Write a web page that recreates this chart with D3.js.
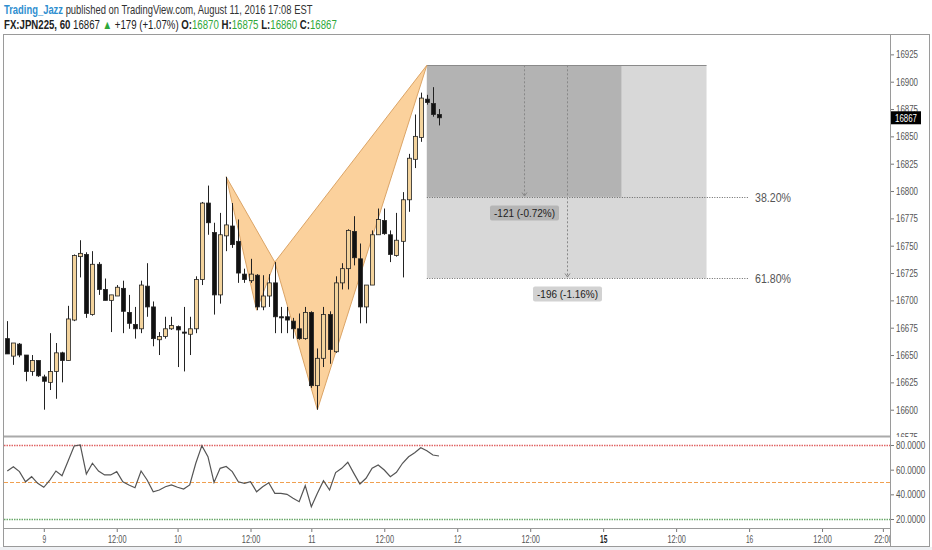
<!DOCTYPE html>
<html>
<head>
<meta charset="utf-8">
<script src="https://cdn.jsdelivr.net/npm/d3@7"></script>
<style>
  body { margin: 0; background: #fff; }
  svg text { font-family: "Liberation Sans", "DejaVu Sans Condensed", sans-serif; }
</style>
</head>
<body>
<div id="chart"></div>
<script>
// FX:JPN225 hourly bars, index 0 = first bar on the left edge
const opens  = [16665,16649,16660,16650,16635,16645,16630,16625,16635,16652,
                16645,16682,16740,16742,16687,16733,16710,16700,16704,16711,
                16689,16678,16674,16713,16694,16664,16667,16674,16676,16671,
                16669,16674,16719,16789,16762,16705,16759,16768,16754,16724,
                16718,16723,16694,16704,16716,16685,16685,16681,16674,16665,
                16689,16622,16647,16687,16653,16716,16729,16763,16738,16694,
                16714,16760,16773,16760,16741,16754,16792,16829,16849,16884,
                16880,16870];
const highs  = [16681,16661,16661,16650,16650,16645,16632,16670,16661,16653,
                16695,16742,16755,16744,16745,16735,16720,16705,16714,16718,
                16705,16694,16718,16734,16699,16671,16685,16685,16677,16694,
                16685,16722,16790,16805,16771,16780,16813,16789,16774,16729,
                16738,16724,16723,16724,16735,16694,16694,16684,16688,16694,
                16690,16656,16694,16690,16722,16734,16765,16777,16752,16714,
                16764,16784,16784,16764,16780,16799,16834,16870,16890,16888,
                16895,16875];
const lows   = [16651,16641,16648,16626,16631,16630,16600,16618,16610,16625,
                16645,16681,16721,16684,16686,16705,16700,16671,16704,16670,
                16674,16665,16670,16685,16658,16650,16665,16673,16639,16635,
                16650,16670,16714,16760,16687,16697,16745,16748,16716,16716,
                16716,16691,16691,16694,16670,16670,16670,16665,16664,16664,
                16620,16600,16639,16642,16652,16710,16710,16732,16679,16679,
                16714,16760,16760,16735,16740,16721,16781,16821,16845,16879,
                16868,16860];
const closes = [16651,16661,16650,16635,16645,16631,16626,16635,16652,16645,
                16683,16741,16743,16688,16733,16710,16700,16705,16712,16690,
                16679,16674,16714,16694,16665,16667,16674,16677,16673,16670,
                16674,16719,16789,16771,16705,16760,16769,16751,16725,16719,
                16724,16694,16704,16716,16685,16684,16682,16674,16665,16689,
                16622,16647,16687,16655,16716,16729,16764,16739,16694,16714,
                16760,16774,16761,16742,16755,16792,16830,16850,16885,16881,
                16870,16867];

// RSI(14) per bar
const rsiValues = [58.9,62.4,58.4,50.2,54.3,48.9,45.7,51.6,58.9,55.1,
                   67.1,79.2,80.0,56.5,65.2,58.9,55.7,55.7,58.4,50.2,
                   47.6,45.4,58.9,51.6,42.1,43.5,46.2,47.6,45.7,44.3,
                   47.6,65.2,79.5,70.5,49.7,61.1,62.6,58.4,50.2,48.9,
                   50.2,42.1,46.2,49.4,40.8,40.8,40.0,36.8,34.0,47.0,
                   30.0,40.8,51.0,43.5,57.6,61.1,66.0,57.0,48.4,53.0,
                   61.1,63.8,59.7,54.3,57.9,65.2,70.5,73.8,77.8,75.4,
                   71.9,71.1];

const priceTicks = [16575,16600,16625,16650,16675,16700,16725,16750,16775,
                    16800,16825,16850,16875,16900,16925];
const rsiTicks = [20, 40, 60, 80];
const rsiLevels = [80, 50, 20];
const rsiLevelColors = ["#e06666", "#f0a050", "#6aa86a"];

// time axis: bar index of each label (future bars continue the same spacing)
const timeTickBars = [6, 18, 28, 40, 50, 62, 74, 86, 98, 110, 122, 134, 144];
const timeTickLabels = ["9","12:00","10","12:00","11","12:00","12","12:00",
                        "15","12:00","16","12:00","22:00"];
const boldTimeLabels = ["15"];

// XABCD pattern
const patternBars = [36, 41, 44, 51, 69];
const patternPrices = [16813, 16691, 16735, 16600, 16915];

// two price range measurements from D down to the fib levels
const fibRatios = [0.382, 0.618];
const fibLabels = ["38.20%", "61.80%"];
const rangeEndBars = [101, 115];
const dropLabels = ["-121 (-0.72%)", "-196 (-1.16%)"];
const fibLineEndBar = 122;
const lastPrice = 16867;

const width = 932, height = 550;
const plotLeft = 4, axisX = 890, plotTop = 35, paneSplit = 437, timeAxisY = 528, frameBottom = 547;

let svg, x, y, yR;

// squeeze text horizontally (the original uses a condensed face) around its anchor x
function fitWidth(sel, widthFn) {
  sel.each(function() {
    const t = d3.select(this);
    const w = this.getComputedTextLength();
    const target = widthFn(this.textContent);
    if (w > 0 && target < w) {
      const x0 = +t.attr("x") || 0;
      t.attr("transform", `translate(${x0},0) scale(${target / w},1) translate(${-x0},0)`);
    }
  });
}

function initChart() {
  svg = d3.select("#chart").append("svg")
    .attr("width", width)
    .attr("height", height);

  svg.append("rect").attr("width", width).attr("height", height).attr("fill", "#fff");
  svg.append("rect")
    .attr("x", 0).attr("y", frameBottom)
    .attr("width", width).attr("height", height - frameBottom)
    .attr("fill", "#eef0f3");

  x = d3.scaleLinear().domain([0, 71]).range([7.3, 439]);
  y = d3.scaleLinear().domain([16600, 16900]).range([409.7, 81.7]);
  yR = d3.scaleLinear().domain([20, 80]).range([519, 445]);

  const defs = svg.append("defs");
  defs.append("clipPath").attr("id", "clipPrice")
    .append("rect").attr("x", plotLeft).attr("y", plotTop)
    .attr("width", axisX - plotLeft).attr("height", paneSplit - plotTop);
  defs.append("clipPath").attr("id", "clipPriceAxis")
    .append("rect").attr("x", 0).attr("y", plotTop)
    .attr("width", width - axisX).attr("height", paneSplit - plotTop);
  defs.append("clipPath").attr("id", "clipRsi")
    .append("rect").attr("x", plotLeft).attr("y", paneSplit)
    .attr("width", axisX - plotLeft).attr("height", timeAxisY - paneSplit);
  defs.append("clipPath").attr("id", "clipTime")
    .append("rect").attr("x", plotLeft).attr("y", 0)
    .attr("width", axisX - plotLeft).attr("height", frameBottom - timeAxisY);

  drawHeader();
  drawPricePane();
  drawRsiPane();
  drawFrame();
}

function drawHeader() {
  const l1 = svg.append("text").attr("x", 4).attr("y", 14).attr("font-size", 12.5);
  l1.append("tspan").attr("fill", "#2f8fd0").attr("font-weight", "bold").text("Trading_Jazz");
  l1.append("tspan").attr("fill", "#333").text(" published on TradingView.com, August 11, 2016 17:08 EST");
  l1.call(fitWidth, () => 309);

  const l2 = svg.append("text").attr("x", 4).attr("y", 29).attr("font-size", 12.5).attr("fill", "#222");
  l2.append("tspan").attr("font-weight", "bold").text("FX:JPN225, 60");
  l2.append("tspan").text(" 16867 ");
  l2.append("tspan").attr("fill", "#2fa83a").text("▲");
  l2.append("tspan").text(" +179 (+1.07%) ");
  const ohlc = [["O:", "16870"], ["H:", "16875"], ["L:", "16860"], ["C:", "16867"]];
  ohlc.forEach((p, i) => {
    l2.append("tspan").attr("font-weight", "bold").text((i ? " " : "") + p[0]);
    l2.append("tspan").attr("fill", "#2fa83a").text(p[1]);
  });
  l2.call(fitWidth, () => 333);
}

function drawPricePane() {
  const g = svg.append("g").attr("clip-path", "url(#clipPrice)");
  const d = patternBars.map((b, i) => [x(b), y(patternPrices[i])]);

  // range measurement boxes
  const fibPrices = fibRatios.map(r => patternPrices[4] - r * (patternPrices[4] - patternPrices[3]));
  const boxFills = ["#b3b3b3", "#d8d8d8"];
  [1, 0].forEach(i => {
    g.append("rect")
      .attr("x", x(patternBars[4]))
      .attr("y", y(patternPrices[4]))
      .attr("width", x(rangeEndBars[i]) - x(patternBars[4]))
      .attr("height", y(fibPrices[i]) - y(patternPrices[4]))
      .attr("fill", boxFills[i]);
  });
  g.append("line")
    .attr("x1", x(patternBars[4])).attr("x2", x(rangeEndBars[1]))
    .attr("y1", Math.round(y(patternPrices[4])) + 0.5).attr("y2", Math.round(y(patternPrices[4])) + 0.5)
    .attr("stroke", "#8a8a8a");

  fibPrices.forEach((fp, i) => {
    const yy = Math.round(y(fp)) + 0.5;
    g.append("line")
      .attr("x1", x(patternBars[4])).attr("x2", x(fibLineEndBar))
      .attr("y1", yy).attr("y2", yy)
      .attr("stroke", "#666").attr("stroke-dasharray", "1,1.5");
    g.append("text")
      .attr("x", x(fibLineEndBar) + 6).attr("y", yy)
      .attr("dy", "0.35em").attr("font-size", 12).attr("fill", "#555")
      .text(fibLabels[i])
      .call(fitWidth, () => 36);

    const mx = Math.round(x((patternBars[4] + rangeEndBars[i]) / 2)) + 0.5;
    g.append("line")
      .attr("x1", mx).attr("x2", mx)
      .attr("y1", y(patternPrices[4])).attr("y2", yy - 1)
      .attr("stroke", "#888").attr("stroke-dasharray", "2,2");
    g.append("path")
      .attr("d", `M${mx - 2.5},${yy - 5}L${mx},${yy - 1.5}L${mx + 2.5},${yy - 5}`)
      .attr("fill", "none").attr("stroke", "#888");

    const lbl = g.append("g").attr("transform", `translate(${mx},${yy + 8})`);
    lbl.append("rect")
      .attr("x", -34.5).attr("y", 0).attr("width", 69).attr("height", 15)
      .attr("rx", 2).attr("fill", i === 0 ? "#b5b5b5" : "#d2d2d2");
    lbl.append("text")
      .attr("y", 7.5).attr("dy", "0.35em").attr("text-anchor", "middle")
      .attr("font-size", 11.5).attr("fill", "#222")
      .text(dropLabels[i])
      .call(fitWidth, () => 61);
  });

  // XAB and BCD triangles
  [[0, 1, 2], [2, 3, 4]].forEach(t => {
    g.append("path")
      .attr("d", "M" + t.map(k => d[k].join(",")).join("L") + "Z")
      .attr("fill", "#fbd19c")
      .attr("stroke", "#dba466")
      .attr("stroke-width", 1);
  });

  // candles
  const bars = d3.range(opens.length);
  const cg = g.append("g");
  cg.selectAll("line.wick").data(bars).enter().append("line")
    .attr("class", "wick")
    .attr("x1", i => Math.round(x(i)) + 0.5).attr("x2", i => Math.round(x(i)) + 0.5)
    .attr("y1", i => y(highs[i])).attr("y2", i => y(lows[i]))
    .attr("stroke", "#222");
  cg.selectAll("rect.body").data(bars).enter().append("rect")
    .attr("class", "body")
    .attr("x", i => Math.round(x(i)) - 1.5)
    .attr("width", 4)
    .attr("y", i => y(Math.max(opens[i], closes[i])))
    .attr("height", i => Math.max(1, Math.abs(y(opens[i]) - y(closes[i]))))
    .attr("fill", i => closes[i] >= opens[i] ? "#f3d39c" : "#111")
    .attr("stroke", "#222").attr("stroke-width", 0.8);

  // price axis
  const ax = svg.append("g")
    .attr("transform", `translate(${axisX},0)`)
    .attr("clip-path", "url(#clipPriceAxis)")
    .call(d3.axisRight(y).tickValues(priceTicks).tickSize(4).tickPadding(2).tickFormat(d3.format("d")));
  ax.select(".domain").remove();
  ax.selectAll(".tick line").attr("stroke", "#777");
  ax.selectAll(".tick text").attr("font-size", 11).attr("fill", "#555")
    .call(fitWidth, s => s.length * 4.4);

  // last price marker
  const lp = svg.append("g").attr("transform", `translate(${axisX},${y(lastPrice)})`);
  lp.append("rect").attr("x", 0).attr("y", -6.5).attr("width", 31).attr("height", 13).attr("fill", "#000");
  lp.append("text").attr("x", 5).attr("dy", "0.35em").attr("font-size", 11).attr("fill", "#fff")
    .text(lastPrice).call(fitWidth, s => s.length * 4.4);
}

function drawRsiPane() {
  const g = svg.append("g").attr("clip-path", "url(#clipRsi)");
  rsiLevels.forEach((lv, i) => {
    g.append("line")
      .attr("x1", plotLeft).attr("x2", axisX)
      .attr("y1", Math.round(yR(lv)) + 0.5).attr("y2", Math.round(yR(lv)) + 0.5)
      .attr("stroke", rsiLevelColors[i])
      .attr("stroke-width", i === 1 ? 1 : 1.6)
      .attr("stroke-dasharray", i === 1 ? "4,2" : "1.5,1");
  });
  g.append("path")
    .datum(rsiValues)
    .attr("d", d3.line().x((v, i) => x(i)).y(v => yR(v)))
    .attr("fill", "none").attr("stroke", "#555").attr("stroke-width", 1.2);

  const ax = svg.append("g")
    .attr("transform", `translate(${axisX},0)`)
    .call(d3.axisRight(yR).tickValues(rsiTicks).tickSize(4).tickPadding(2).tickFormat(d3.format(".4f")));
  ax.select(".domain").remove();
  ax.selectAll(".tick line").attr("stroke", "#777");
  ax.selectAll(".tick text").attr("font-size", 11).attr("fill", "#555")
    .call(fitWidth, s => s.length * 4.2);

  // time axis
  const tx = svg.append("g")
    .attr("transform", `translate(0,${timeAxisY})`)
    .attr("clip-path", "url(#clipTime)")
    .call(d3.axisBottom(x).tickValues(timeTickBars).tickSize(4).tickPadding(3)
      .tickFormat((v, i) => timeTickLabels[i]));
  tx.select(".domain").remove();
  tx.selectAll(".tick line").attr("stroke", "#777");
  tx.selectAll(".tick text").attr("font-size", 11)
    .attr("font-weight", (v, i) => boldTimeLabels.includes(timeTickLabels[i]) ? "bold" : null)
    .attr("fill", (v, i) => boldTimeLabels.includes(timeTickLabels[i]) ? "#222" : "#555")
    .call(fitWidth, s => s.length * 3.7);
}

function drawFrame() {
  const f = svg.append("g").attr("fill", "none").attr("stroke", "#9a9a9a");
  f.append("rect").attr("x", plotLeft - 0.5).attr("y", plotTop - 0.5)
    .attr("width", width - plotLeft - 2).attr("height", frameBottom - plotTop);
  f.append("line").attr("x1", axisX + 0.5).attr("x2", axisX + 0.5).attr("y1", plotTop).attr("y2", frameBottom);
  f.append("line").attr("x1", plotLeft).attr("x2", axisX).attr("y1", paneSplit - 0.5).attr("y2", paneSplit - 0.5)
    .attr("stroke-width", 2).attr("stroke", "#aaa");
  f.append("line").attr("x1", plotLeft).attr("x2", axisX).attr("y1", timeAxisY + 0.5).attr("y2", timeAxisY + 0.5);
}

document.addEventListener("DOMContentLoaded", initChart);
</script>
</body>
</html>
